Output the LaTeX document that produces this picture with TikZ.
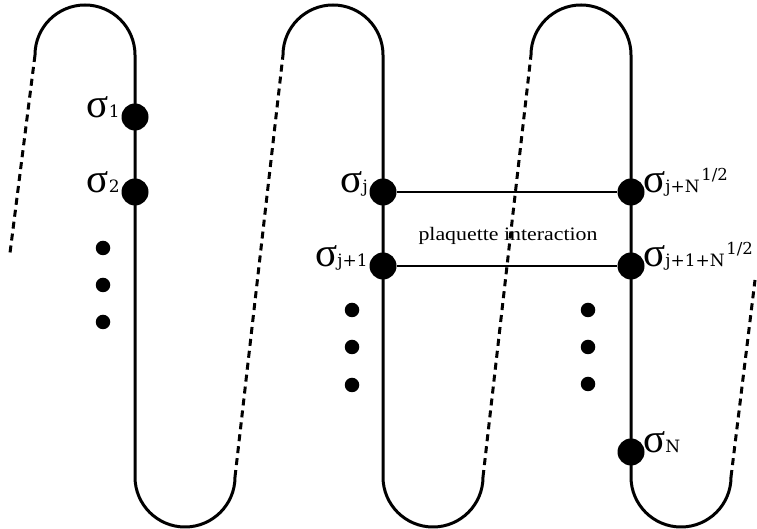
\documentclass[tikz,border=0pt]{standalone}
\usepackage{fontspec}
\setmainfont{Liberation Serif}
\newfontfamily\subfont{DejaVu Serif}
\newcommand{\sg}[1]{{\fontsize{41}{41}\selectfont σ}{\subfont\fontsize{17}{17}\selectfont #1}}
\newcommand{\sq}{\,\raisebox{12pt}{\subfont\fontsize{16.5}{16.5}\selectfont 1/2}}
\tikzset{
  rail/.style={line width=3pt},
  link/.style={line width=3pt, dash pattern=on 7pt off 5pt},
  bond/.style={line width=1.6pt},
  spin/.style={circle, fill=black, minimum size=27pt, inner sep=0pt},
  ell/.style={circle, fill=black, minimum size=14.5pt, inner sep=0pt},
  labl/.style={inner sep=0pt, anchor=base east},
  labr/.style={inner sep=0pt, anchor=base west},
}
\begin{document}
\begin{tikzpicture}[x=1pt,y=1pt]
\useasboundingbox (0,0) rectangle (757,529);
% serpentine anchor points
\coordinate (t1) at (35,474);
\coordinate (r1b) at (135,52);
\coordinate (b1) at (235,52);
\coordinate (t2) at (283,474);
\coordinate (r2b) at (383,52);
\coordinate (b2) at (483,52);
\coordinate (t3) at (531,474);
\coordinate (r3b) at (631,52);
\coordinate (b3) at (731,52);
\coordinate (e1) at (10,276);
\coordinate (e2) at (755,249);
% rails
\draw[rail] (t1) arc[start angle=180,end angle=0,radius=50] -- (r1b) arc[start angle=180,end angle=360,radius=50];
\draw[rail] (t2) arc[start angle=180,end angle=0,radius=50] -- (r2b) arc[start angle=180,end angle=360,radius=50];
\draw[rail] (t3) arc[start angle=180,end angle=0,radius=50] -- (r3b) arc[start angle=180,end angle=360,radius=50];
% dashed links
\draw[link] (t1) -- (e1);
\draw[link] (b1) -- (t2);
\draw[link] (b2) -- (t3);
\draw[link] (b3) -- (e2);
% spins
\node[spin] (s1) at (135,412) {};
\node[spin] (s2) at (135,337) {};
\node[spin] (sj) at (383,337) {};
\node[spin] (sj1) at (383,263) {};
\node[spin] (sjN) at (631,337) {};
\node[spin] (sj1N) at (631,263) {};
\node[spin] (sN) at (631,77) {};
% ellipsis dots
\node[ell] (d11) at (103,281) {};
\node[ell] (d12) at (103,244) {};
\node[ell] (d13) at (103,207) {};
\node[ell] (d21) at (352,219) {};
\node[ell] (d22) at (352,182) {};
\node[ell] (d23) at (352,144) {};
\node[ell] (d31) at (588,219) {};
\node[ell] (d32) at (588,182) {};
\node[ell] (d33) at (588,145) {};
% plaquette bonds
\draw[bond] (sj) -- (sjN);
\draw[bond] (sj1) -- (sj1N);
\node[inner sep=0pt] (pl) at (508,293) {\scalebox{1.15}[1]{\fontsize{19}{19}\selectfont plaquette interaction}};
% labels
\node[labl] (l1) at ([xshift=-15pt,yshift=-1pt]s1.center) {\sg{1}};
\node[labl] (l2) at ([xshift=-15pt,yshift=-1pt]s2.center) {\sg{2}};
\node[labl] (lj) at ([xshift=-15pt,yshift=-1pt]sj.center) {\sg{j}};
\node[labl] (lj1) at ([xshift=-15pt,yshift=-1pt]sj1.center) {\sg{j+1}};
\node[labr] (ljN) at ([xshift=12pt,yshift=-1pt]sjN.center) {\sg{j+N}\sq};
\node[labr] (lj1N) at ([xshift=12pt,yshift=-1pt]sj1N.center) {\sg{j+1+N}\sq};
\node[labr] (lN) at ([xshift=12pt,yshift=-1pt]sN.center) {\sg{N}};
\end{tikzpicture}
\end{document}
